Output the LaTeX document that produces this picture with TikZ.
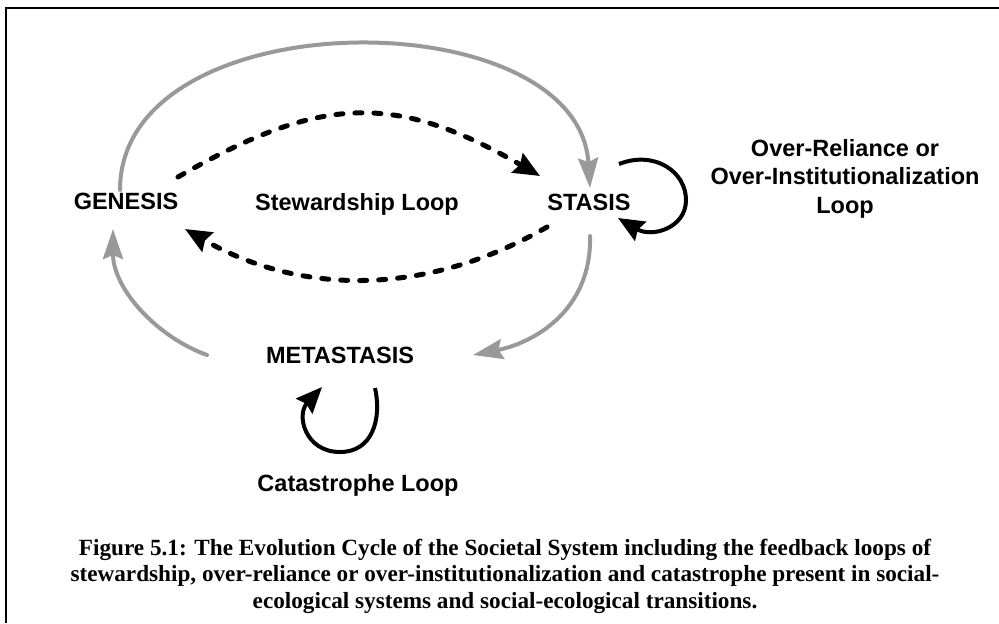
\documentclass[tikz,border=0pt]{standalone}
\usepackage{fontspec}
\setmainfont{Liberation Serif}
\setsansfont{Liberation Sans}
\usetikzlibrary{arrows.meta}

\begin{document}
\begin{tikzpicture}[x=0.5pt,y=-0.5pt,font=\sffamily]
  % Stages of the cycle and the loops between them.
  \definecolor{cycle}{HTML}{999999}
  \useasboundingbox (0,0) rectangle (999,623);
  \draw[line width=1pt] (6,623) -- (6,8) -- (999,8);

  \tikzset{stage/.style={inner sep=0pt, align=center, anchor=base, font=\sffamily\bfseries\fontsize{11.75}{14.25}\selectfont},
    cyclearrow/.style={cycle, line width=2pt, line cap=round, -{Stealth[length=15pt,width=10pt,inset=2pt]}},
    looparrow/.style={black, line width=2pt, -{Stealth[length=13pt,width=11pt,inset=1.5pt]}},
    stewarrow/.style={looparrow, line width=2.5pt, line cap=round, dash pattern=on 3.5pt off 6pt}}
  \node[stage] (genesis) at (126,209) {GENESIS};
  \node[stage] (stasis) at (589,210) {STASIS};
  \node[stage] (metastasis) at (340,363) {METASTASIS};
  \node[stage] (stewLabel) at (357,210) {Stewardship Loop};
  % multi-line nodes sit on their last baseline
  \node[stage] (relianceLabel) at (845,213) {Over-Reliance or\\Over-Institutionalization\\Loop};
  \node[stage] (catLabel) at (358,491) {Catastrophe Loop};

  % Loop ends.
  \coordinate (genTop) at (120,190);
  \coordinate (genBot) at (113,229);
  \coordinate (genOut) at (178,177);
  \coordinate (genIn) at (185,229);
  \coordinate (staTop) at (590,188);
  \coordinate (staBot) at (590,236);
  \coordinate (staIn) at (540,176);
  \coordinate (staOut) at (547,227);
  \coordinate (staLoop) at (619,164);
  \coordinate (staLoopEnd) at (618,218);
  \coordinate (metLeft) at (207,355);
  \coordinate (metRight) at (473,355);
  \coordinate (metLoop) at (375,388);
  \coordinate (metLoopEnd) at (322,387);

  \draw[cyclearrow] (genTop) .. controls +(0,-192) and +(-12,-190) .. (staTop);
  \draw[cyclearrow] (staBot) .. controls +(2,75) and +(60,-12) .. (metRight);
  \draw[cyclearrow] (metLeft) .. controls +(-50,-18) and +(0,60) .. (genBot);
  \draw[stewarrow] (genOut) .. controls +(144,-83) and +(-144,-83) .. (staIn);
  \draw[stewarrow] (staOut) .. controls +(-118,68) and +(118,68) .. (genIn);
  \draw[looparrow] (staLoop) .. controls (655,150) and (686,172) .. (686,200)
    .. controls (686,228) and (652,238) .. (staLoopEnd);
  \draw[looparrow] (metLoop) .. controls (382,420) and (372,452) .. (340,452)
    .. controls (305,452) and (296,415) .. (metLoopEnd);

  \node[anchor=base, align=center, inner sep=0pt, font=\rmfamily\bfseries\fontsize{11.6}{13.25}\selectfont] (caption) at (505,608)
    {Figure 5.1: The Evolution Cycle of the Societal System including the feedback loops of\\
     stewardship, over-reliance or over-institutionalization and catastrophe present in social-\\
     ecological systems and social-ecological transitions.};
\end{tikzpicture}
\end{document}
